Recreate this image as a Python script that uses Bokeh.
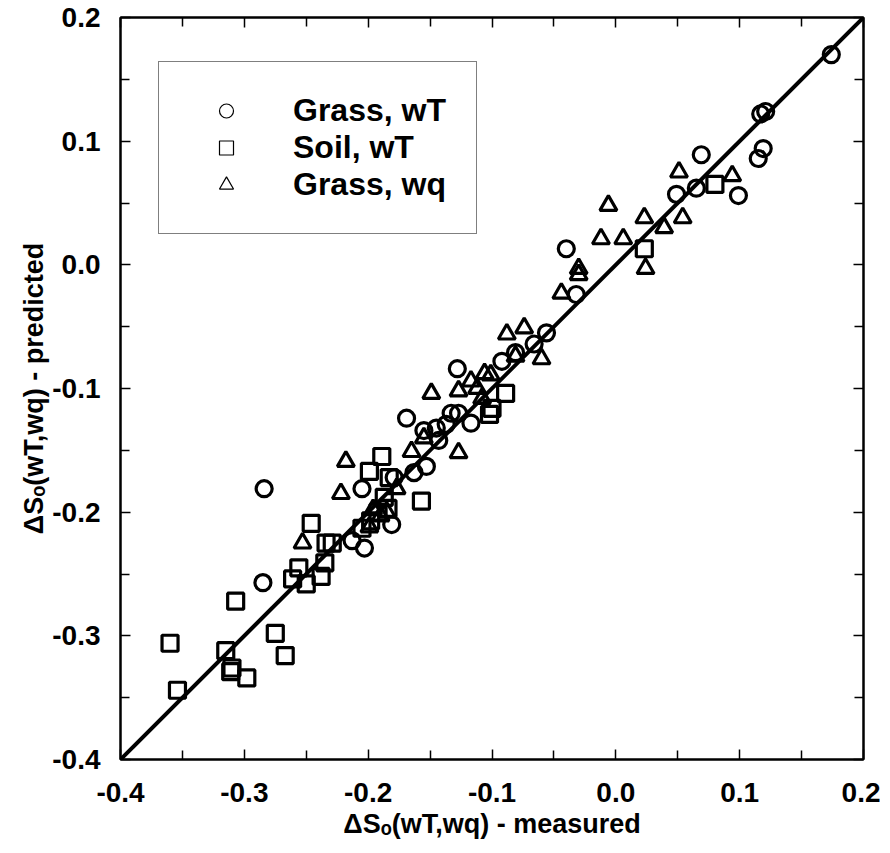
from bokeh.plotting import figure
from bokeh.models import (Range1d, FixedTicker, LinearAxis, NumeralTickFormatter,
                          CustomJSTickFormatter, Legend, LegendItem)
from bokeh.embed import file_html
from bokeh.resources import INLINE

# ---------------- data ----------------
grass_wT_x = [0.174, 0.117, 0.121, 0.119, 0.115, 0.069, 0.065, 0.049, 0.099, -0.040,
              -0.032, -0.056, -0.066, -0.092, -0.081, -0.128, -0.169, -0.133, -0.127, -0.117,
              -0.155, -0.145, -0.137, -0.143, -0.153, -0.163, -0.179, -0.205, -0.284, -0.181,
              -0.213, -0.203, -0.285]
grass_wT_y = [0.170, 0.122, 0.124, 0.094, 0.086, 0.089, 0.062, 0.057, 0.056, 0.013,
              -0.024, -0.055, -0.064, -0.078, -0.071, -0.084, -0.124, -0.120, -0.120, -0.128,
              -0.134, -0.132, -0.129, -0.142, -0.163, -0.168, -0.172, -0.181, -0.181, -0.210,
              -0.223, -0.229, -0.257]

soil_wT_x = [0.080, 0.023, -0.089, -0.102, -0.100, -0.189, -0.199, -0.183, -0.157, -0.187,
             -0.184, -0.198, -0.205, -0.192, -0.246, -0.234, -0.229, -0.235, -0.238, -0.256,
             -0.261, -0.250, -0.360, -0.354, -0.315, -0.310, -0.311, -0.298, -0.307, -0.275,
             -0.267]
soil_wT_y = [0.065, 0.013, -0.104, -0.121, -0.116, -0.155, -0.167, -0.172, -0.191, -0.188,
             -0.197, -0.207, -0.213, -0.200, -0.209, -0.225, -0.225, -0.241, -0.252, -0.245,
             -0.254, -0.258, -0.306, -0.344, -0.312, -0.326, -0.329, -0.334, -0.272, -0.298,
             -0.316]

grass_wq_x = [0.051, 0.094, -0.006, 0.023, 0.054, 0.039, -0.012, 0.006, 0.024, -0.030,
              -0.030, -0.044, -0.088, -0.074, -0.060, -0.081, -0.117, -0.106, -0.101, -0.149,
              -0.127, -0.112, -0.108, -0.165, -0.155, -0.127, -0.218, -0.222, -0.177, -0.253,
              -0.196, -0.190, -0.199, -0.185]
grass_wq_y = [0.075, 0.072, 0.048, 0.038, 0.038, 0.030, 0.021, 0.021, -0.003, -0.003,
              -0.008, -0.023, -0.056, -0.051, -0.076, -0.074, -0.094, -0.088, -0.089, -0.104,
              -0.102, -0.100, -0.108, -0.151, -0.140, -0.152, -0.159, -0.185, -0.181, -0.225,
              -0.198, -0.203, -0.212, -0.200]

one_to_one = [-0.4, 0.2]
tick_values = [-0.4, -0.3, -0.2, -0.1, 0.0, 0.1, 0.2]
minor_values = [-0.35, -0.25, -0.15, -0.05, 0.05, 0.15]
legend_labels = ["Grass, wT", "Soil, wT", "Grass, wq"]

FONT = "Liberation Sans"

p = figure(width=880, height=850, output_backend="svg", toolbar_location=None,
           x_range=Range1d(-0.4, 0.2), y_range=Range1d(-0.4, 0.2),
           min_border_left=120, min_border_right=17, min_border_top=17, min_border_bottom=91)
p.grid.visible = False
p.outline_line_color = "black"
p.outline_line_width = 2
p.background_fill_color = "white"
p.border_fill_color = "white"

ticker = FixedTicker(ticks=tick_values, minor_ticks=minor_values)

for ax in (p.xaxis[0], p.yaxis[0]):
    ax.ticker = ticker
    ax.formatter = NumeralTickFormatter(format="0.0")
    ax.major_tick_in = 10
    ax.major_tick_out = 0
    ax.minor_tick_in = 9
    ax.minor_tick_out = 0
    ax.major_tick_line_width = 1.5
    ax.minor_tick_line_width = 1.5
    ax.axis_line_width = 2
    ax.major_label_text_font = FONT
    ax.major_label_text_font_style = "bold"
    ax.major_label_text_font_size = "28px"
    ax.major_label_text_color = "black"
    ax.axis_label_text_font = FONT
    ax.axis_label_text_font_style = "bold"
    ax.axis_label_text_font_size = "27px"
    ax.axis_label_text_color = "black"

p.xaxis[0].axis_label = "\u0394S\u2092(wT,wq) - measured"
p.yaxis[0].axis_label = "\u0394S\u2092(wT,wq) - predicted"
p.xaxis[0].major_label_standoff = 23
p.xaxis[0].axis_label_standoff = 4
p.yaxis[0].major_label_standoff = 20
p.yaxis[0].axis_label_standoff = 0

for loc in ("above", "right"):
    ax = LinearAxis(ticker=ticker, formatter=CustomJSTickFormatter(code="return ''"),
                    major_tick_in=10, major_tick_out=0, minor_tick_in=9, minor_tick_out=0,
                    major_tick_line_width=1.5, minor_tick_line_width=1.5,
                    axis_line_width=2, major_label_standoff=0)
    p.add_layout(ax, loc)

p.line(one_to_one, one_to_one, line_color="black", line_width=4)

series = [
    (grass_wT_x, grass_wT_y, "circle", 16),
    (soil_wT_x, soil_wT_y, "square", 16),
    (grass_wq_x, grass_wq_y, "triangle", 17),
]

# thin-outlined copies (hidden beneath the bold markers) supply the thin legend key symbols
legend_renderers = []
for xs, ys, m, s in series:
    r = p.scatter(xs, ys, marker=m, size=s, fill_color=None,
                  line_color="black", line_width=1.2)
    legend_renderers.append(r)

for xs, ys, m, s in series:
    p.scatter(xs, ys, marker=m, size=s, fill_color=None,
              line_color="black", line_width=3.2)

legend = Legend(items=[LegendItem(label=l, renderers=[r])
                       for l, r in zip(legend_labels, legend_renderers)],
                location=(38, 525), padding=30, margin=0, spacing=0,
                glyph_width=74, glyph_height=35, label_height=35, label_standoff=30,
                label_text_font=FONT, label_text_font_style="bold",
                label_text_font_size="32px", label_text_color="black",
                border_line_color="black", border_line_width=1.5,
                background_fill_color="white", background_fill_alpha=1.0)
p.add_layout(legend, "center")

open("out.html", "w").write(file_html(p, INLINE))
